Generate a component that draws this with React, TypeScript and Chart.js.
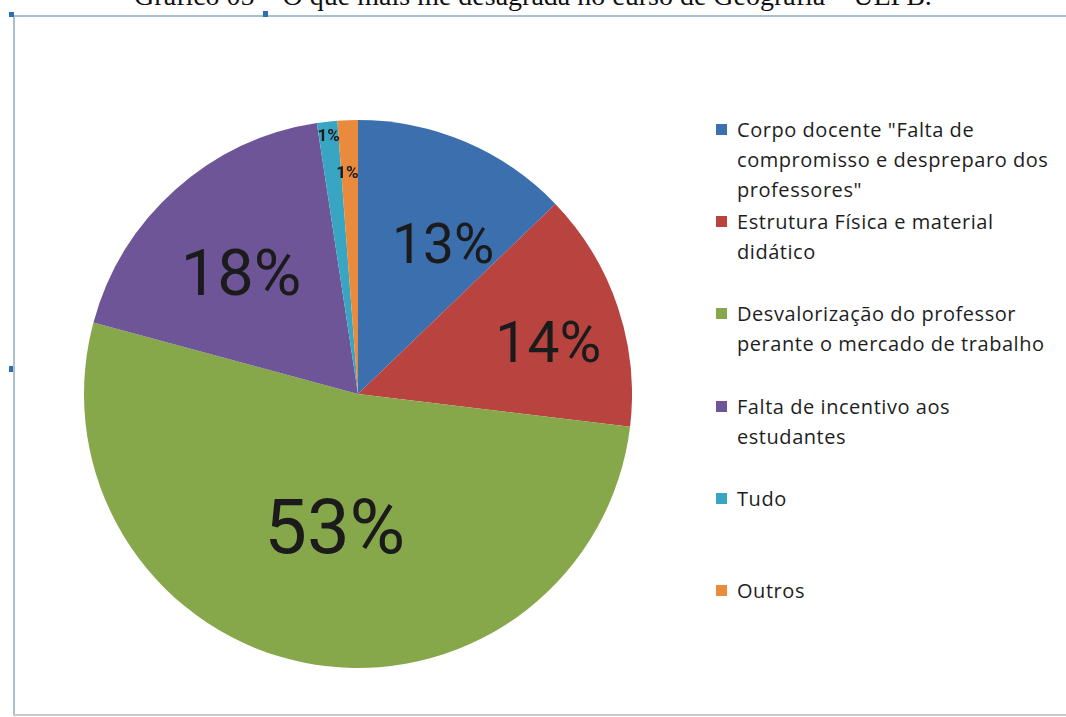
import React, { useEffect, useRef } from "react";
import { Chart, registerables } from "chart.js";

Chart.register(...registerables);

const titleText = "Gráfico 05 – O que mais me desagrada no curso de Geografia – UEPB.";
const categories = [
  'Corpo docente "Falta de\ncompromisso e despreparo dos\nprofessores"',
  "Estrutura Física e material\ndidático",
  "Desvalorização do professor\nperante o mercado de trabalho",
  "Falta de incentivo aos\nestudantes",
  "Tudo",
  "Outros",
];
const values = [12.8, 14.1, 52.3, 18.4, 1.2, 1.2];
const percentLabels = ["13%", "14%", "53%", "18%", "1%", "1%"];
const colors = ["#3b6fae", "#b8433f", "#87a74b", "#6e5597", "#38a6c2", "#ea8a3c"];

// label styling (not data)
const labelRadiusFactor = [0.63, 0.72, 0.49, 0.617, 0.95, 0.81];
const labelAngleOffsetDeg = [6.5, 3.2, -1, -2, 0, -0.6];
const labelFontSize = [55, 57, 76, 65, 17, 17];
const labelBold = [false, false, false, false, true, true];

const labelPlugin = {
  id: "sliceLabels",
  afterDatasetsDraw(chart: any) {
    const ctx = chart.ctx;
    const meta = chart.getDatasetMeta(0);
    meta.data.forEach((arc: any, i: number) => {
      const p = arc.getProps(["x", "y", "startAngle", "endAngle", "outerRadius"], true);
      const mid = (p.startAngle + p.endAngle) / 2 + (labelAngleOffsetDeg[i] * Math.PI) / 180;
      const r = p.outerRadius * labelRadiusFactor[i];
      const lx = p.x + Math.cos(mid) * r;
      const ly = p.y + Math.sin(mid) * r;
      const size = labelFontSize[i];
      ctx.save();
      ctx.font = `${labelBold[i] ? "bold " : ""}${size}px Roboto`;
      ctx.fillStyle = "#1b1b1b";
      ctx.textAlign = "center";
      ctx.textBaseline = "alphabetic";
      ctx.fillText(percentLabels[i], lx, ly + size * 0.711 / 2);
      ctx.restore();
    });
  },
};

export default function App() {
  const canvasRef = useRef<HTMLCanvasElement | null>(null);

  useEffect(() => {
    if (!canvasRef.current) return;
    const chart = new Chart(canvasRef.current, {
      type: "pie",
      data: {
        labels: categories,
        datasets: [
          {
            data: values,
            backgroundColor: colors,
            borderWidth: 0,
          },
        ],
      },
      options: {
        responsive: false,
        animation: false,
        layout: { padding: 0 },
        plugins: {
          legend: { display: false },
          tooltip: { enabled: false },
          title: { display: false },
        },
      },
      plugins: [labelPlugin],
    });
    return () => chart.destroy();
  }, []);

  const lineColor = "#a9bfd2";
  const handle = "#2f6fb0";

  return (
    <div
      style={{
        position: "fixed",
        left: 0,
        top: 0,
        width: 1066,
        height: 717,
        overflow: "hidden",
        background: "#ffffff",
      }}
    >
      <div
        style={{
          position: "absolute",
          left: 0,
          width: 1066,
          top: -20,
          textAlign: "center",
          fontFamily: '"Liberation Serif", "Times New Roman", serif',
          fontSize: 28,
          lineHeight: "32px",
          color: "#111",
          whiteSpace: "nowrap",
        }}
      >
        {titleText}
      </div>
      {/* frame */}
      <div style={{ position: "absolute", left: 13, top: 15, width: 1053, height: 2, background: lineColor }} />
      <div style={{ position: "absolute", left: 13, top: 15, width: 2, height: 700, background: lineColor }} />
      <div style={{ position: "absolute", left: 13, top: 714, width: 1053, height: 2, background: "#c9c9c9" }} />
      <div style={{ position: "absolute", left: 9, top: 12, width: 5, height: 5, background: handle }} />
      <div style={{ position: "absolute", left: 263, top: 11, width: 5, height: 6, background: handle }} />
      <div style={{ position: "absolute", left: 9, top: 366, width: 4, height: 6, background: handle }} />

      <canvas
        ref={canvasRef}
        width={548}
        height={548}
        style={{ position: "absolute", left: 84, top: 120, width: 548, height: 548 }}
      />

      <div style={{ position: "absolute", left: 716, top: 115 }}>
        {categories.map((c, i) => (
          <div key={i} style={{ position: "relative", height: 92.2 }}>
            <div
              style={{
                position: "absolute",
                left: 0,
                top: 9,
                width: 11,
                height: 11,
                background: colors[i],
              }}
            />
            <div
              style={{
                position: "absolute",
                left: 21,
                top: 0,
                fontFamily: '"Open Sans", sans-serif',
                fontSize: 20,
                lineHeight: "30px",
                letterSpacing: 0.55,
                color: "#1e1e1e",
                whiteSpace: "pre",
              }}
            >
              {c}
            </div>
          </div>
        ))}
      </div>
    </div>
  );
}
